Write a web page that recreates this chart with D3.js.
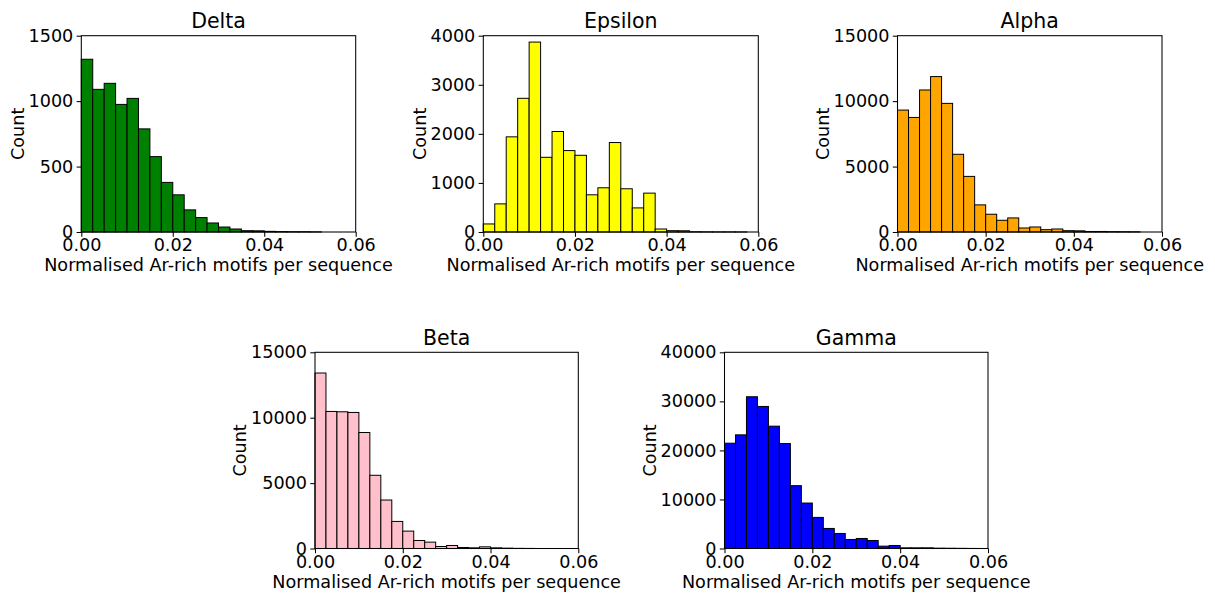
<!DOCTYPE html>
<html>
<head>
<meta charset="utf-8">
<script src="https://cdn.jsdelivr.net/npm/d3@7"></script>
<style>
  html, body { margin: 0; padding: 0; background: #fff; }
  svg { display: block; font-family: "DejaVu Sans", sans-serif; }
</style>
</head>
<body>
<svg id="chart" width="1215" height="595"></svg>
<script>
// ---- data ----
const binWidth = 0.0025;
const xTicks = [0, 0.02, 0.04, 0.06];
const xLabel = "Normalised Ar-rich motifs per sequence";
const yLabel = "Count";

const deltaCounts   = [1320,1090,1136,975,1021,788,576,379,284,169,110,69,38,23,10,9,5,3,2,2,1,0,0,0];
const epsilonCounts = [164,573,1939,2724,3870,1522,2048,1659,1563,758,901,1823,881,491,792,61,27,25,5,3,2,2,1,0];
const alphaCounts   = [9317,8754,10853,11876,9829,5938,4249,2073,1357,896,1075,307,384,179,230,102,90,40,40,25,20,15,0,0];
const betaCounts    = [13416,10478,10452,10401,8868,5597,3706,2070,1329,613,486,153,230,77,51,128,51,26,10,5,0,0,0,0];
const gammaCounts   = [21465,23169,30937,28961,24940,21397,12811,9268,6337,4089,3066,1840,2044,1635,477,613,136,136,136,68,50,30,10,0];

const deltaTicks   = [0, 500, 1000, 1500];
const epsilonTicks = [0, 1000, 2000, 3000, 4000];
const alphaTicks   = [0, 5000, 10000, 15000];
const betaTicks    = [0, 5000, 10000, 15000];
const gammaTicks   = [0, 10000, 20000, 30000, 40000];

const panels = [
  {title: "Delta",   counts: deltaCounts,   yTicks: deltaTicks,   color: "#008000", box: [81.3, 35.7, 355.7, 232]},
  {title: "Epsilon", counts: epsilonCounts, yTicks: epsilonTicks, color: "#ffff00", box: [483.3, 35.7, 758.3, 232]},
  {title: "Alpha",   counts: alphaCounts,   yTicks: alphaTicks,   color: "#ffa500", box: [897.5, 35.7, 1162, 232]},
  {title: "Beta",    counts: betaCounts,    yTicks: betaTicks,    color: "#ffc0cb", box: [315, 352.3, 578.3, 548.5]},
  {title: "Gamma",   counts: gammaCounts,   yTicks: gammaTicks,   color: "#0000ff", box: [724.5, 352.3, 988, 548.5]}
];

const svg = d3.select("#chart");
const tickFont = 17.6, labelFont = 17.6, titleFont = 20.5;
const tickLen = 4.7, tickPad = 3.3;

panels.forEach(p => {
  const [x0, y0, x1, y1] = p.box;
  const x = d3.scaleLinear().domain([0, 0.06]).range([x0, x1]);
  const y = d3.scaleLinear().domain([0, d3.max(p.yTicks)]).range([y1, y0]);
  const g = svg.append("g");

  const bins = p.counts.map((c, i) => ({x0: i * binWidth, x1: (i + 1) * binWidth, c}));
  g.selectAll("rect.bar").data(bins).join("rect")
    .attr("class", "bar")
    .attr("x", d => x(d.x0))
    .attr("width", d => x(d.x1) - x(d.x0))
    .attr("y", d => y(d.c))
    .attr("height", d => y(0) - y(d.c))
    .attr("fill", p.color)
    .attr("stroke", "#000")
    .attr("stroke-width", 1);

  // spines
  g.append("rect")
    .attr("x", x0).attr("y", y0).attr("width", x1 - x0).attr("height", y1 - y0)
    .attr("fill", "none").attr("stroke", "#000").attr("stroke-width", 1.05);

  const xAxis = d3.axisBottom(x).tickValues(xTicks).tickFormat(d3.format(".2f")).tickSizeOuter(0).tickSize(tickLen).tickPadding(2);
  const gx = g.append("g").attr("transform", `translate(0,${y1})`).call(xAxis);
  const yAxis = d3.axisLeft(y).tickValues(p.yTicks).tickFormat(d3.format("d")).tickSizeOuter(0).tickSize(tickLen).tickPadding(tickPad);
  const gy = g.append("g").attr("transform", `translate(${x0},0)`).call(yAxis);
  [gx, gy].forEach(a => {
    a.select(".domain").remove();
    a.selectAll("line").attr("stroke", "#000").attr("stroke-width", 1.05);
    a.selectAll("text").attr("font-size", tickFont).attr("fill", "#000")
      .attr("font-family", "DejaVu Sans, sans-serif");
  });
  gx.selectAll("text").attr("dy", "0.71em");

  g.append("text")
    .attr("x", (x0 + x1) / 2).attr("y", y0 - 7.4)
    .attr("text-anchor", "middle").attr("font-size", titleFont).attr("fill", "#000")
    .text(p.title);

  g.append("text")
    .attr("x", (x0 + x1) / 2).attr("y", y1 + 39)
    .attr("text-anchor", "middle").attr("font-size", labelFont).attr("fill", "#000")
    .text(xLabel);

  // y label placed left of widest tick label
  let maxW = 0;
  gy.selectAll("text").each(function() { maxW = Math.max(maxW, this.getBBox().width); });
  const labX = x0 - tickLen - tickPad - maxW - 5;
  const yMid = (y0 + y1) / 2;
  g.append("text")
    .attr("transform", `translate(${labX},${yMid}) rotate(-90)`)
    .attr("text-anchor", "middle").attr("font-size", labelFont).attr("fill", "#000")
    .text(yLabel);
});
</script>
</body>
</html>
